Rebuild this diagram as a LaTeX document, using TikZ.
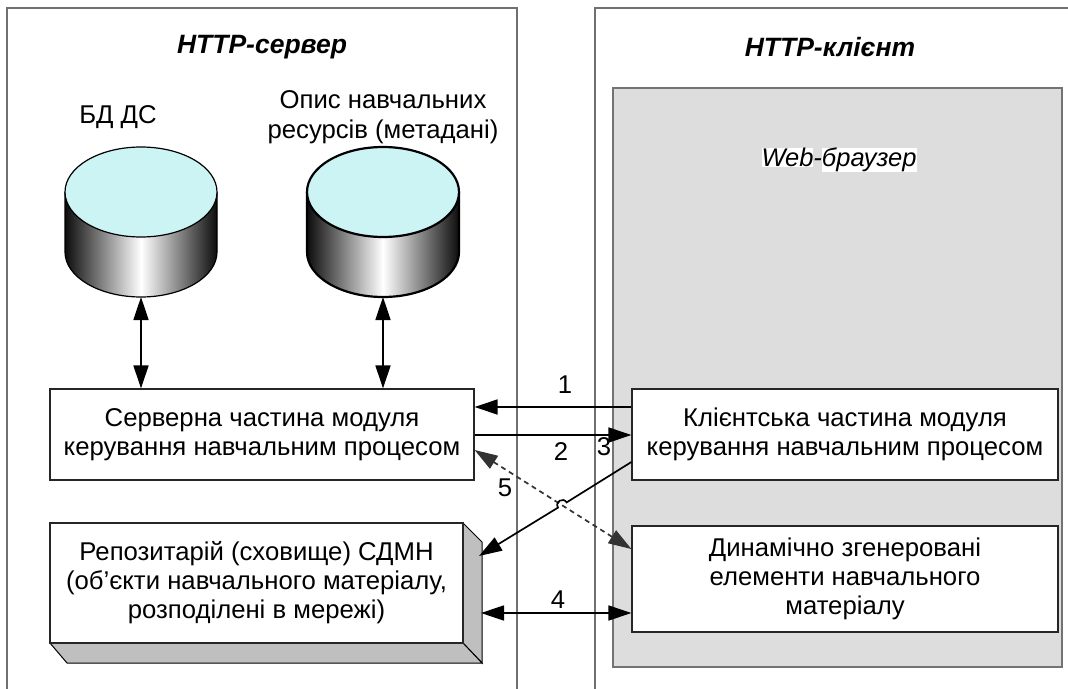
\documentclass[tikz,border=0pt]{standalone}
\usepackage{fontspec}
\setmainfont{Liberation Sans}
\usetikzlibrary{arrows.meta,calc}
\definecolor{dbtop}{HTML}{CCF4F4}
\definecolor{browser}{HTML}{DDDDDD}
\definecolor{panelc}{HTML}{707070}
\tikzset{
  panel/.style={draw=panelc, line width=1.3pt},
  boxn/.style={draw=black!85, line width=1.2pt, fill=white, rectangle, inner sep=0pt, align=center, font=\fontsize{25.7}{29}\selectfont},
  lbl/.style={font=\fontsize{25.7}{29.5}\selectfont, align=center, inner sep=0pt},
  ttl/.style={font=\fontsize{26.5}{29}\selectfont\bfseries\itshape, inner sep=0pt},
  conn/.style={line width=1.7pt, black},
  tipA/.style={-{Triangle[length=23pt,width=15pt]}},
  tipAB/.style={{Triangle[length=23pt,width=15pt]}-{Triangle[length=23pt,width=15pt]}},
  dconn/.style={line width=1.7pt, black!80, dash pattern=on 5pt off 4pt},
  dtip/.style={{Triangle[length=23pt,width=15pt,fill=black!80]}-{Triangle[length=23pt,width=15pt,fill=black!80]}},
}
\newcommand{\dbcyl}[3]{% name, cx, linewidth
  \shade[left color=black!95, right color=black!95, middle color=white]
    (#2-76,192) -- (#2-76,252) arc[start angle=180, end angle=360, x radius=76pt, y radius=45pt] -- (#2+76,192) -- cycle;
  \draw[line width=#3] (#2-76,192) -- (#2-76,252) arc[start angle=180, end angle=360, x radius=76pt, y radius=45pt] -- (#2+76,192);
  \draw[line width=#3, fill=dbtop] (#2,192) ellipse[x radius=76pt, y radius=45pt];
  \coordinate (#1) at (#2,297);
}
\begin{document}
\begin{tikzpicture}[x=1pt,y=-1pt]
\useasboundingbox (0,0) rectangle (1068,688);
\clip (0,0) rectangle (1068,688);
\fill[white] (0,0) rectangle (1068,688);
% panels
\draw[panel] (7,700) -- (7,8) -- (517,8) -- (517,700);
\draw[panel] (595,700) -- (595,8) -- (1080,8);
\node[ttl] (tserv) at (262,47) {HTTP-сервер};
\node[ttl] (tcli) at (830,47) {HTTP-клієнт};
% browser area
\draw[draw=black!55, line width=2.2pt, fill=browser] (613,88) rectangle (1062,667);
\node[lbl, font=\fontsize{25.5}{29}\selectfont\itshape] (web) at (839,160) {\setlength{\fboxsep}{0pt}\colorbox{white}{Web}-\colorbox{white}{браузер}};
% databases
\dbcyl{db1}{141}{1.2pt}
\dbcyl{db2}{383}{2.2pt}
\node[lbl] (ldb1) at (118,117) {БД ДС};
\node[lbl] (ldb2) at (383,117) {Опис навчальних\\ресурсів (метадані)};
% boxes
\node[boxn, minimum width=424pt, minimum height=91pt] (serv) at (262,434.5) {Серверна частина модуля\\керування навчальним процесом};
\node[boxn, minimum width=426pt, minimum height=91pt] (cli) at (845,434.5) {Клієнтська частина модуля\\керування навчальним процесом};
\node[boxn, minimum width=426pt, minimum height=106pt] (dyn) at (845,579) {Динамічно згенеровані\\елементи навчального\\матеріалу};
% repository 3D
\draw[line width=1pt, fill=black!25] (463,523) -- (482,542) -- (482,663) -- (463,643) -- cycle;
\draw[line width=1pt, fill=black!25] (50,643) -- (463,643) -- (482,663) -- (67,663) -- cycle;
\node[boxn, minimum width=413pt, minimum height=120pt] (rep) at (256.5,583) {Репозитарій (сховище) СДМН\\(об’єкти навчального матеріалу,\\розподілені в мережі)};
\coordinate (repr3) at (479,556);
\coordinate (repr4) at (481,613);
% vertical arrows
\draw[conn, tipAB] (db1) -- (serv.north -| db1);
\draw[conn, tipAB] (db2) -- (serv.north -| db2);
% arrow 1
\draw[conn, tipA] (cli.west |- 0,407) -- (serv.east |- 0,407);
\node[lbl] (n1) at (565,385) {1};
% arrow 2
\draw[conn, tipA] (serv.east |- 0,435) -- (cli.west |- 0,435);
\node[lbl] (n2) at (561,452) {2};
% arrow 5 dashed
\draw[dconn, dtip] (serv.east |- 0,450) -- (dyn.west |- 0,549);
\node[lbl] (n5) at (505,488) {5};
% arrow 3 with hop
\draw[conn, tipA] (cli.west |- 0,462) -- (566.6,502.4) .. controls (563.1,496.7) and (554.5,501.9) .. (558.0,507.6) -- (repr3);
\node[lbl] (n3) at (604,447) {3};
% arrow 4
\draw[conn, tipAB] (repr4) -- (dyn.west |- repr4);
\node[lbl] (n4) at (558,600) {4};
\end{tikzpicture}
\end{document}
